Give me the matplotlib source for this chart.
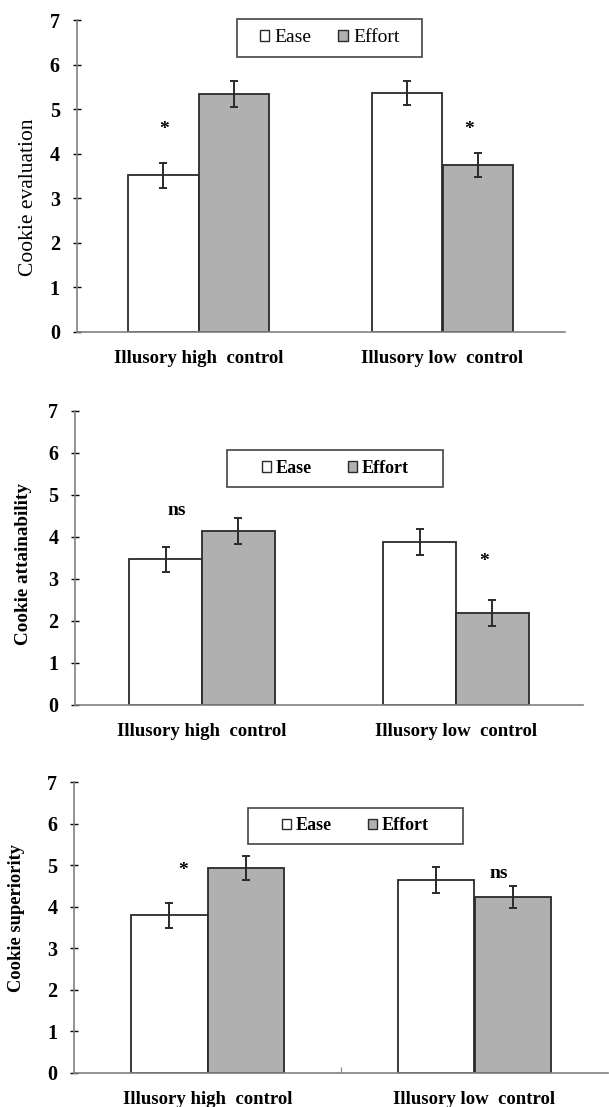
import matplotlib.pyplot as plt
from matplotlib.patches import Patch, Rectangle
import numpy as np

plt.rcParams['font.family'] = ['Liberation Serif', 'DejaVu Serif']

categories = ['Illusory high  control', 'Illusory low  control']
series = ['Ease', 'Effort']

# Cookie evaluation
eval_ease = [3.52, 5.37]
eval_effort = [5.34, 3.75]
eval_ease_err = [0.28, 0.27]
eval_effort_err = [0.29, 0.27]
eval_marks = ['*', '*']
eval_mark_y = [4.55, 4.55]

# Cookie attainability
att_ease = [3.47, 3.89]
att_effort = [4.14, 2.19]
att_ease_err = [0.30, 0.31]
att_effort_err = [0.31, 0.30]
att_marks = ['ns', '*']
att_mark_y = [4.62, 3.41]

# Cookie superiority
sup_ease = [3.80, 4.64]
sup_effort = [4.94, 4.24]
sup_ease_err = [0.30, 0.31]
sup_effort_err = [0.29, 0.26]
sup_marks = ['*', 'ns']
sup_mark_y = [4.88, 4.80]

W, H = 609, 1107
fig = plt.figure(figsize=(W / 100, H / 100), dpi=100)

ease_color = 'white'
effort_color = '#b0b0b0'
edge = '#2a2a2a'
axis_color = '#808080'
bar_w = 0.287


def px_axes(left, top, right, bottom):
    return fig.add_axes([left / W, 1 - bottom / H, (right - left) / W, (bottom - top) / H])


def panel(ax, ease, effort, ease_err, effort_err, marks, mark_x, mark_y, ylabel, ylabel_xy,
          label_bold, label_size, legend_box, legend_bold, legend_size, col_sp, mid_tick=False):
    x = np.arange(len(categories))
    ax.bar(x - bar_w / 2, ease, width=bar_w, color=ease_color, edgecolor=edge, linewidth=1.3, zorder=2)
    ax.bar(x + bar_w / 2, effort, width=bar_w, color=effort_color, edgecolor=edge, linewidth=1.3, zorder=2)
    ax.errorbar(x - bar_w / 2, ease, yerr=ease_err, fmt='none', ecolor=edge, elinewidth=1.4,
                capsize=2.6, capthick=1.4, zorder=3)
    ax.errorbar(x + bar_w / 2, effort, yerr=effort_err, fmt='none', ecolor=edge, elinewidth=1.4,
                capsize=2.6, capthick=1.4, zorder=3)
    for i in range(len(categories)):
        ax.text(mark_x[i], mark_y[i], marks[i], ha='center', va='center',
                fontsize=14, fontweight='bold')
    ax.set_xlim(-0.5, 1.5)
    ax.set_ylim(0, 7)
    ax.set_yticks(range(8))
    ax.set_yticklabels([str(v) for v in range(8)], fontsize=14.5, fontweight='bold')
    ax.tick_params(axis='y', direction='inout', length=6, width=1, color='black', pad=9)
    if mid_tick:
        ax.set_xticks([0.5])
        ax.tick_params(axis='x', direction='in', length=4, color=axis_color)
        ax.set_xticklabels([''])
    else:
        ax.set_xticks([])
    for i, c in enumerate(categories):
        ax.annotate(c, xy=(x[i], 0), xycoords=('data', 'axes fraction'),
                    xytext=(0, -19), textcoords='offset points',
                    ha='center', va='center', fontsize=13.5, fontweight='bold')
    for s in ['top', 'right']:
        ax.spines[s].set_visible(False)
    ax.spines['left'].set_color(axis_color)
    ax.spines['bottom'].set_color(axis_color)
    ax.spines['left'].set_linewidth(1.2)
    ax.spines['bottom'].set_linewidth(1.2)
    fig.text(ylabel_xy[0] / W, 1 - ylabel_xy[1] / H, ylabel, rotation=90, ha='center', va='center',
             fontsize=label_size, fontweight='bold' if label_bold else 'normal')

    l0, t0, r0, b0 = legend_box
    fig.patches.append(Rectangle((l0 / W, 1 - b0 / H), (r0 - l0) / W, (b0 - t0) / H,
                                 transform=fig.transFigure, facecolor='white',
                                 edgecolor='#444444', linewidth=1.2, zorder=5))
    handles = [Patch(facecolor=ease_color, edgecolor=edge, label=series[0]),
               Patch(facecolor=effort_color, edgecolor=edge, label=series[1])]
    leg = fig.legend(handles=handles, ncol=2, loc='center',
                     bbox_to_anchor=((l0 + r0) / 2 / W, 1 - (t0 + b0) / 2 / H),
                     prop={'size': legend_size, 'weight': 'bold' if legend_bold else 'normal'},
                     handlelength=0.5, handleheight=0.5, handletextpad=0.25,
                     columnspacing=col_sp, borderpad=0.2, frameon=False)
    leg.set_zorder(6)


ax1 = px_axes(76.5, 20, 564.5, 332)
panel(ax1, eval_ease, eval_effort, eval_ease_err, eval_effort_err, eval_marks,
      [-0.143, 1.11], eval_mark_y, 'Cookie evaluation', (29, 197), False, 15.5,
      (237, 19, 422, 57), False, 14, 1.4)

ax2 = px_axes(75, 411, 583, 705)
panel(ax2, att_ease, att_effort, att_ease_err, att_effort_err, att_marks,
      [-0.1, 1.11], att_mark_y, 'Cookie attainability', (24, 564), True, 13.8,
      (227, 450, 443, 487), True, 13, 2.0)

ax3 = px_axes(74, 782, 608, 1073)
panel(ax3, sup_ease, sup_effort, sup_ease_err, sup_effort_err, sup_marks,
      [-0.09, 1.09], sup_mark_y, 'Cookie superiority', (17, 918), True, 13.3,
      (248, 808, 463, 844), True, 13, 2.0, mid_tick=True)

fig.savefig('out.png', dpi=100)
